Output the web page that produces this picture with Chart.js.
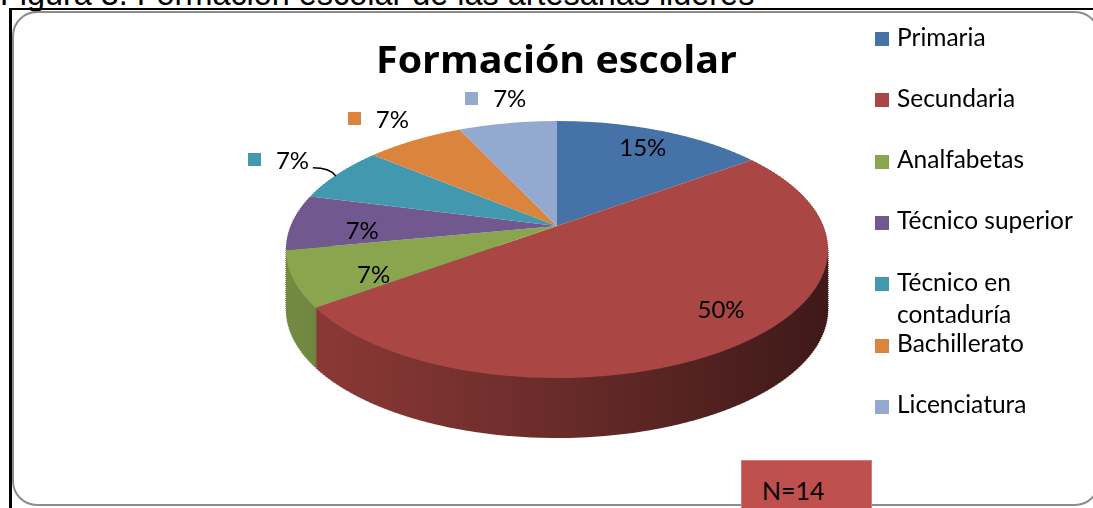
<!DOCTYPE html>
<html lang="es">
<head>
<meta charset="utf-8">
<title>Formación escolar</title>
<script src="https://cdn.jsdelivr.net/npm/chart.js@4.4.1/dist/chart.umd.min.js"></script>
<style>
  html, body { margin:0; padding:0; background:#fff; width:1093px; height:508px; overflow:hidden; position:relative; }
  #cap { position:absolute; left:0; top:-21.8px; font:32.4px "Liberation Sans", Arial, sans-serif; line-height:32px; white-space:nowrap; color:#000; }
  #frame { position:absolute; left:9px; top:7.5px; width:3000px; height:3000px; border-left:3px solid #000; border-top:2.5px solid #000; }
  #panel { position:absolute; left:12px; top:11px; width:1088px; height:495px; box-sizing:border-box; border:2px solid #8c8c8c; border-radius:25px; background:#fff; }
  #chart { position:absolute; left:0; top:0; }
  #title { position:absolute; left:376px; top:39.5px; font:700 37px "Open Sans", sans-serif; line-height:37px; white-space:nowrap; color:#000; transform-origin:0 0; }
  .leg { position:absolute; left:875px; display:flex; align-items:flex-start; font:24.5px Lato, sans-serif; color:#000; }
  .leg .sw { flex:none; width:14px; height:14px; margin-top:11.5px; margin-right:8px; }
  .leg .lt { width:192px; line-height:32px; }
  .pl { position:absolute; display:flex; align-items:center; font:24px Lato, sans-serif; line-height:24px; white-space:nowrap; color:#000; }
  .pl .sw { display:inline-block; width:13px; height:13px; margin-right:15px; }
  #nbox { position:absolute; left:741px; top:460px; width:131px; height:60px; background:#C0504D; box-sizing:border-box; border:1px solid #d27c79; }
  #nbox span { position:absolute; left:20px; top:16.8px; font:25px Lato, sans-serif; line-height:25px; color:#000; }
</style>
</head>
<body>
<div id="cap"></div>
<div id="frame"></div>
<div id="panel"></div>
<canvas id="chart" width="1093" height="508"></canvas>
<div id="title"></div>
<div id="nbox"><span></span></div>
<script>
// ---- data ----
const captionText = "Figura 3. Formación escolar de las artesanas lideres";
const titleText = "Formación escolar";
const categories = ["Primaria", "Secundaria", "Analfabetas", "Técnico superior", "Técnico en contaduría", "Bachillerato", "Licenciatura"];
const percentages = [15, 50, 7, 7, 7, 7, 7];
const sliceColors = ["#4572A7", "#AA4643", "#89A54E", "#71588F", "#4198AF", "#DB843D", "#93A9CF"];
const sampleNote = "N=14";

// ---- view (perspective of the 3D pie) ----
const W = 1093, H = 508;
const VIEW = { x0:557, y0:226, K:266.5, B:124.2, a:0.183, depth:60, top:118, bottom:382, sideFrom:244, band:2 };
const LABEL = { insideRho:0.78, insideTurn:-4 * Math.PI / 180, outsideRho:1.3 };

function project(u, v) {
  const w = 1 - VIEW.a * v;
  return { x: VIEW.x0 + VIEW.K * u / w, y: VIEW.y0 + VIEW.B * v / w };
}
function rowToV(y) {
  const t = (y - VIEW.y0) / VIEW.B;
  return t / (1 + VIEW.a * t);
}
function drawBands(ctx, arcs, yFrom, yTo, shift) {
  const ref = arcs[0];
  const cx = ref.x, cy = ref.y, R = ref.outerRadius;
  for (let y = yFrom; y < yTo; y += VIEW.band) {
    const y1 = Math.min(y + VIEW.band, yTo);
    const vm = rowToV((y + y1) / 2);
    const w = 1 - VIEW.a * vm;
    const sx = VIEW.K / (R * w), sy = VIEW.B / (R * w * w);
    const ym = VIEW.y0 + VIEW.B * vm / w;
    ctx.save();
    ctx.setTransform(1, 0, 0, 1, 0, 0);
    ctx.beginPath();
    ctx.rect(0, y + shift, W, y1 - y);
    ctx.clip();
    ctx.setTransform(sx, 0, 0, sy, VIEW.x0 - sx * cx, ym + shift - sy * (cy + vm * R));
    for (const a of arcs) a.draw(ctx);
    ctx.restore();
  }
}

function placeLabels(chart) {
  if (document.querySelector('.pl')) return;
  const arcs = chart.getDatasetMeta(0).data;
  const ctx = chart.ctx;
  arcs.forEach((arc, i) => {
    const mid = (arc.startAngle + arc.endAngle) / 2;
    const span = arc.endAngle - arc.startAngle;
    const far = Math.sin(mid) < -0.3 && span < 0.7;
    const ang = far ? mid : mid + LABEL.insideTurn;
    const rho = far ? LABEL.outsideRho : LABEL.insideRho;
    const p = project(rho * Math.cos(ang), rho * Math.sin(ang));
    const el = document.createElement('div');
    el.className = 'pl';
    const sw = document.createElement('span');
    sw.className = 'sw';
    sw.style.background = sliceColors[i];
    const tx = document.createElement('span');
    tx.textContent = percentages[i] + '%';
    el.appendChild(sw); el.appendChild(tx);
    document.body.appendChild(el);
    const bw = el.offsetWidth, bh = el.offsetHeight;
    const left = p.x - bw / 2, top = p.y - bh / 2;
    el.style.left = left + 'px';
    el.style.top = top + 'px';
    const edge = project(Math.cos(mid), Math.sin(mid));
    const right = left + bw;
    if (far && edge.x - right > 20) {
      ctx.save();
      ctx.setTransform(1, 0, 0, 1, 0, 0);
      ctx.strokeStyle = '#000';
      ctx.lineWidth = 1.5;
      ctx.beginPath();
      ctx.moveTo(right + 4, p.y + 8);
      ctx.quadraticCurveTo(edge.x - 8, p.y + 8, edge.x - 2, edge.y + 2);
      ctx.stroke();
      ctx.restore();
    }
  });
}

const pie3d = {
  id: 'pie3d',
  beforeDatasetsDraw(chart) {
    const ctx = chart.ctx;
    const arcs = chart.getDatasetMeta(0).data;
    for (let d = VIEW.depth; d >= 1; d -= 2) drawBands(ctx, arcs, VIEW.sideFrom, VIEW.bottom, d);
    ctx.save();
    ctx.setTransform(1, 0, 0, 1, 0, 0);
    ctx.globalCompositeOperation = 'source-atop';
    const g = ctx.createLinearGradient(285, 0, 830, 0);
    g.addColorStop(0, 'rgba(0,0,0,0.16)');
    g.addColorStop(0.5, 'rgba(0,0,0,0.38)');
    g.addColorStop(1, 'rgba(0,0,0,0.64)');
    ctx.fillStyle = g;
    ctx.fillRect(0, 0, W, H);
    ctx.restore();
    drawBands(ctx, arcs, VIEW.top, VIEW.bottom, 0);
    return false;
  },
  afterDraw(chart) { placeLabels(chart); }
};

// ---- static texts & legend ----
document.getElementById('cap').textContent = captionText;
const titleEl = document.getElementById('title');
titleEl.textContent = titleText;
document.querySelector('#nbox span').textContent = sampleNote;

categories.forEach((c, i) => {
  const item = document.createElement('div');
  item.className = 'leg';
  item.style.top = (46 + i * 61.3 - 25.5) + 'px';
  const sw = document.createElement('span');
  sw.className = 'sw';
  sw.style.background = sliceColors[i];
  const lt = document.createElement('span');
  lt.className = 'lt';
  lt.textContent = c;
  item.appendChild(sw); item.appendChild(lt);
  document.body.appendChild(item);
});

const tw = titleEl.getBoundingClientRect().width;
titleEl.style.transform = 'scaleX(' + (361 / tw) + ')';

new Chart(document.getElementById('chart'), {
  type: 'pie',
  data: {
    labels: categories,
    datasets: [{ data: percentages, backgroundColor: sliceColors, borderWidth: 0, clip: false }]
  },
  options: {
    responsive: false,
    animation: false,
    events: [],
    layout: { padding: 0 },
    plugins: { legend: { display: false }, tooltip: { enabled: false }, title: { display: false } }
  },
  plugins: [pie3d]
});
</script>
</body>
</html>
